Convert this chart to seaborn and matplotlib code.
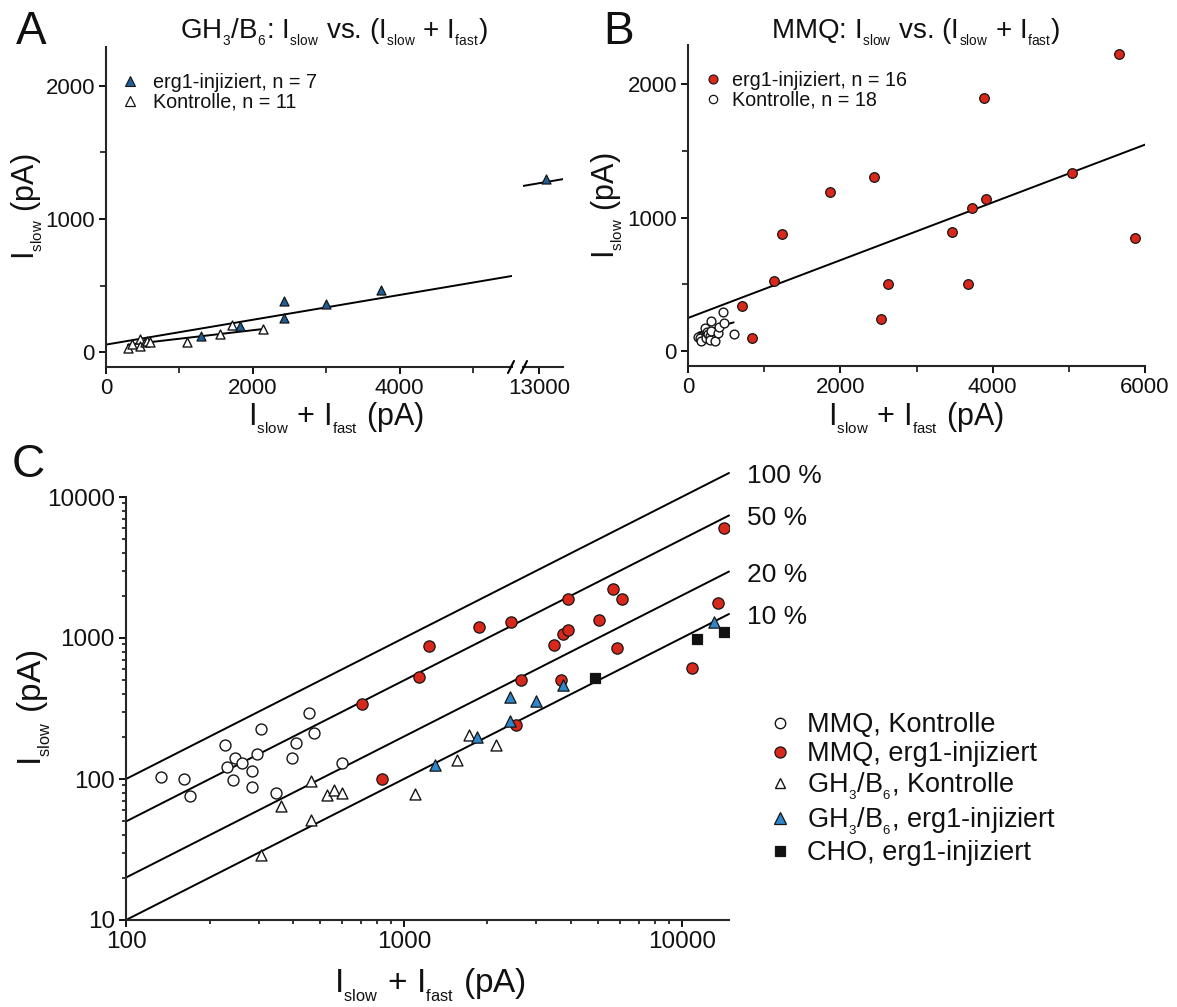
import matplotlib
matplotlib.use("Agg")
import matplotlib.pyplot as plt
from matplotlib.lines import Line2D
from matplotlib.ticker import FixedLocator, LogLocator, NullFormatter, FixedFormatter
import numpy as np
import seaborn as sns

# ---------------- data (pA) ----------------
# GH3/B6 cells: total current (Islow + Ifast) and Islow
gh3_ctrl_total = [305, 360, 465, 462, 530, 560, 600, 1100, 1550, 1710, 2140]
gh3_ctrl_slow = [29, 64, 97, 51, 77, 84, 79, 78, 137, 205, 174]
gh3_erg_total = [1290, 1830, 2420, 2420, 3000, 3740, 13100]
gh3_erg_slow = [126, 199, 384, 259, 359, 464, 1300]

# MMQ cells
mmq_ctrl_total = [134, 162, 170, 228, 230, 247, 242, 262, 285, 285, 297, 305,
                  348, 397, 410, 457, 476, 600]
mmq_ctrl_slow = [104, 100, 76, 173, 122, 141, 98, 130, 114, 88, 150, 227,
                 79, 140, 181, 292, 211, 130]
mmq_erg_total = [705, 835, 1130, 1230, 1870, 2440, 2530, 2630, 3465, 3680,
                 3735, 3890, 3910, 5040, 5660, 5870, 6120, 10900, 13500, 14200]
mmq_erg_slow = [340, 100, 525, 875, 1190, 1300, 240, 500, 895, 505,
                1070, 1895, 1140, 1335, 2220, 850, 1880, 615, 1760, 6000]

# CHO cells
cho_erg_total = [4880, 11350, 14150]
cho_erg_slow = [520, 985, 1100]

# linear fits: (intercept pA, slope)
gh3_fit = (58, 0.0931)
gh3_ctrl_fit = (38, 0.064)
gh3_ctrl_fit_range = (300, 2150)
mmq_fit = (249, 0.216)
mmq_ctrl_fit = (116, 0.167)
mmq_ctrl_fit_range = (134, 600)

# fraction lines in panel C
fractions = [1.0, 0.5, 0.2, 0.1]
fraction_labels = ["100 %", "50 %", "20 %", "10 %"]


def sub(s):
    """Small, lowered subscript in mathtext."""
    return r"$_{_{\rm %s}}$" % s


legend_a = ["erg1-injiziert, n = 7", "Kontrolle, n = 11"]
legend_b = ["erg1-injiziert, n = 16", "Kontrolle, n = 18"]
legend_c = ["MMQ, Kontrolle", "MMQ, erg1-injiziert",
            "GH" + sub("3") + "/B" + sub("6") + ", Kontrolle",
            "GH" + sub("3") + "/B" + sub("6") + ", erg1-injiziert",
            "CHO, erg1-injiziert"]

# ---------------- style ----------------
sns.set_style("ticks")
plt.rcParams["font.family"] = ["Liberation Sans", "DejaVu Sans"]
plt.rcParams["mathtext.fontset"] = "custom"
plt.rcParams["mathtext.rm"] = "Liberation Sans"
plt.rcParams["mathtext.it"] = "Liberation Sans:italic"
plt.rcParams["mathtext.bf"] = "Liberation Sans:bold"
plt.rcParams["axes.linewidth"] = 1.5
plt.rcParams["text.color"] = "#111111"

RED = "#d8281c"
BLUE_A = "#1f5f96"
BLUE_C = "#2f86c8"
EDGE = "#151515"

W, H = 1177, 1007
fig = plt.figure(figsize=(W / 100, H / 100), dpi=100)


def px_axes(l, t, r, b):
    return fig.add_axes([l / W, 1 - b / H, (r - l) / W, (b - t) / H])


def style_ticks(ax, size, major=5, minor=4):
    ax.tick_params(which="major", direction="out", length=major, width=1.4,
                   labelsize=size, pad=3, colors="#111111")
    ax.tick_params(which="minor", direction="out", length=minor, width=1.3)


def fig_text(x, y, s, **kw):
    fig.text(x / W, 1 - y / H, s, **kw)


def fit_line(ax, fit, x0, x1, **kw):
    xs = np.array([x0, x1], dtype=float)
    ax.plot(xs, fit[0] + fit[1] * xs, color="black", lw=1.4, zorder=2, **kw)


def scatter(ax, x, y, marker, face, s, lw=0.9):
    sns.scatterplot(x=x, y=y, ax=ax, marker=marker, s=s, color=face,
                    edgecolor=EDGE, linewidth=lw, legend=False, zorder=3)


# ---------------- panel A (broken x axis) ----------------
axA = px_axes(106, 47, 512, 367)
axA2 = px_axes(523, 47, 563, 367)
ylimA = (-110, 2290)
axA.set_xlim(0, 5530)
axA2.set_xlim(12780, 13330)
for ax in (axA, axA2):
    ax.set_ylim(*ylimA)
    sns.despine(ax=ax)
sns.despine(ax=axA2, left=True)
axA2.tick_params(axis="y", left=False, labelleft=False)

fit_line(axA, gh3_fit, 0, 5530)
fit_line(axA2, gh3_fit, 12780, 13330)
fit_line(axA, gh3_ctrl_fit, *gh3_ctrl_fit_range)
for ax in (axA, axA2):
    scatter(ax, gh3_ctrl_total, gh3_ctrl_slow, "^", "white", 42, 1.0)
    scatter(ax, gh3_erg_total, gh3_erg_slow, "^", BLUE_A, 42)

axA.xaxis.set_major_locator(FixedLocator([0, 2000, 4000]))
axA.xaxis.set_minor_locator(FixedLocator([1000, 3000, 5000]))
axA.yaxis.set_major_locator(FixedLocator([0, 1000, 2000]))
axA.yaxis.set_minor_locator(FixedLocator([500, 1500]))
axA2.xaxis.set_major_locator(FixedLocator([13000]))
style_ticks(axA, 16)
style_ticks(axA2, 16)
for ax in (axA, axA2):
    ax.set_xlabel("")
    ax.set_ylabel("")

# break marks on the x axis
for xb in (511, 524):
    fig.add_artist(Line2D([(xb - 3) / W, (xb + 3) / W],
                          [1 - 373 / H, 1 - 361 / H],
                          transform=fig.transFigure, color="black", lw=1.5))

hA = [Line2D([], [], ls="none", marker="^", markersize=6.5, markerfacecolor=BLUE_A,
             markeredgecolor=EDGE, markeredgewidth=0.8),
      Line2D([], [], ls="none", marker="^", markersize=6.5, markerfacecolor="white",
             markeredgecolor=EDGE, markeredgewidth=0.9)]
axA.legend(hA, legend_a, loc="upper left", bbox_to_anchor=(122 / W, 1 - 73 / H),
           bbox_transform=fig.transFigure, frameon=False, fontsize=14.2,
           handlelength=0.8, handletextpad=0.75, borderpad=0, labelspacing=0.05,
           borderaxespad=0)

# ---------------- panel B ----------------
axB = px_axes(688, 45, 1145, 366)
axB.set_xlim(0, 6000)
axB.set_ylim(-110, 2290)
sns.despine(ax=axB)
fit_line(axB, mmq_fit, 0, 6000)
fit_line(axB, mmq_ctrl_fit, *mmq_ctrl_fit_range)
scatter(axB, mmq_ctrl_total, mmq_ctrl_slow, "o", "white", 40, 1.0)
scatter(axB, mmq_erg_total, mmq_erg_slow, "o", RED, 48)
axB.xaxis.set_major_locator(FixedLocator([0, 2000, 4000, 6000]))
axB.xaxis.set_minor_locator(FixedLocator([1000, 3000, 5000]))
axB.yaxis.set_major_locator(FixedLocator([0, 1000, 2000]))
axB.yaxis.set_minor_locator(FixedLocator([500, 1500]))
style_ticks(axB, 16)
axB.set_xlabel("")
axB.set_ylabel("")

hB = [Line2D([], [], ls="none", marker="o", markersize=6.5, markerfacecolor=RED,
             markeredgecolor=EDGE, markeredgewidth=0.8),
      Line2D([], [], ls="none", marker="o", markersize=6.0, markerfacecolor="white",
             markeredgecolor=EDGE, markeredgewidth=0.9)]
axB.legend(hB, legend_b, loc="upper left", bbox_to_anchor=(705 / W, 1 - 71 / H),
           bbox_transform=fig.transFigure, frameon=False, fontsize=14.2,
           handlelength=0.8, handletextpad=0.55, borderpad=0, labelspacing=0.05,
           borderaxespad=0)

# ---------------- panel C (log-log) ----------------
axC = px_axes(126, 497, 729, 920)
axC.set_xscale("log")
axC.set_yscale("log")
xmaxC = 14800
axC.set_xlim(100, xmaxC)
axC.set_ylim(10, 10000)
sns.despine(ax=axC)

xs = np.array([100, xmaxC], dtype=float)
for frac, lab in zip(fractions, fraction_labels):
    axC.plot(xs, frac * xs, color="black", lw=1.4, zorder=2, clip_on=False)
    axC.annotate(lab, xy=(xmaxC, frac * xmaxC), xytext=(18, -3),
                 textcoords="offset pixels", ha="left", va="center",
                 fontsize=19, annotation_clip=False)

scatter(axC, mmq_ctrl_total, mmq_ctrl_slow, "o", "white", 62, 1.0)
scatter(axC, gh3_ctrl_total, gh3_ctrl_slow, "^", "white", 62, 1.0)
scatter(axC, mmq_erg_total, mmq_erg_slow, "o", RED, 66)
scatter(axC, gh3_erg_total, gh3_erg_slow, "^", BLUE_C, 66)
scatter(axC, cho_erg_total, cho_erg_slow, "s", "#111111", 48)

axC.xaxis.set_major_locator(FixedLocator([100, 1000, 10000]))
axC.xaxis.set_major_formatter(FixedFormatter(["100", "1000", "10000"]))
axC.xaxis.set_minor_locator(LogLocator(base=10, subs=np.arange(2, 10)))
axC.xaxis.set_minor_formatter(NullFormatter())
axC.yaxis.set_major_locator(FixedLocator([10, 100, 1000, 10000]))
axC.yaxis.set_major_formatter(FixedFormatter(["10", "100", "1000", "10000"]))
axC.yaxis.set_minor_locator(LogLocator(base=10, subs=np.arange(2, 10)))
axC.yaxis.set_minor_formatter(NullFormatter())
style_ticks(axC, 17.5, major=5, minor=3)
axC.set_xlabel("")
axC.set_ylabel("")

hC = [Line2D([], [], ls="none", marker="o", markersize=7.5, markerfacecolor="white",
             markeredgecolor=EDGE, markeredgewidth=1.0),
      Line2D([], [], ls="none", marker="o", markersize=8, markerfacecolor=RED,
             markeredgecolor=EDGE, markeredgewidth=0.9),
      Line2D([], [], ls="none", marker="^", markersize=7.5, markerfacecolor="white",
             markeredgecolor=EDGE, markeredgewidth=1.0),
      Line2D([], [], ls="none", marker="^", markersize=8, markerfacecolor=BLUE_C,
             markeredgecolor=EDGE, markeredgewidth=0.9),
      Line2D([], [], ls="none", marker="s", markersize=7, markerfacecolor="#111111",
             markeredgecolor=EDGE, markeredgewidth=0.9)]
axC.legend(hC, legend_c, loc="upper left", bbox_to_anchor=(769 / W, 1 - 712 / H),
           bbox_transform=fig.transFigure, frameon=False, fontsize=19.5,
           handlelength=0.8, handletextpad=0.6, borderpad=0, labelspacing=0.12,
           borderaxespad=0)

# ---------------- titles, labels, panel letters ----------------
SLOW = "I" + sub("slow")
TOTAL = "I" + sub("slow") + " + I" + sub("fast") + " (pA)"
fig_text(334, 38, "GH" + sub("3") + "/B" + sub("6") + ": " + SLOW + " vs. (" +
         SLOW + " + I" + sub("fast") + ")", ha="center", va="baseline", fontsize=20)
fig_text(916, 38, "MMQ: " + SLOW + " vs. (" + SLOW + " + I" + sub("fast") + ")",
         ha="center", va="baseline", fontsize=20)

fig_text(27, 207, SLOW + " (pA)", rotation=90, ha="center", va="center", fontsize=22)
fig_text(607, 206, SLOW + " (pA)", rotation=90, ha="center", va="center", fontsize=22)
fig_text(34, 708, SLOW + " (pA)", rotation=90, ha="center", va="center", fontsize=24)

fig_text(336, 425, TOTAL, ha="center", va="baseline", fontsize=22)
fig_text(916, 425, TOTAL, ha="center", va="baseline", fontsize=22)
fig_text(430, 993, TOTAL, ha="center", va="baseline", fontsize=24)

fig_text(16, 44, "A", ha="left", va="baseline", fontsize=33)
fig_text(603, 44, "B", ha="left", va="baseline", fontsize=33)
fig_text(12, 477, "C", ha="left", va="baseline", fontsize=33)

fig.savefig("out.png", dpi=100, facecolor="white")
